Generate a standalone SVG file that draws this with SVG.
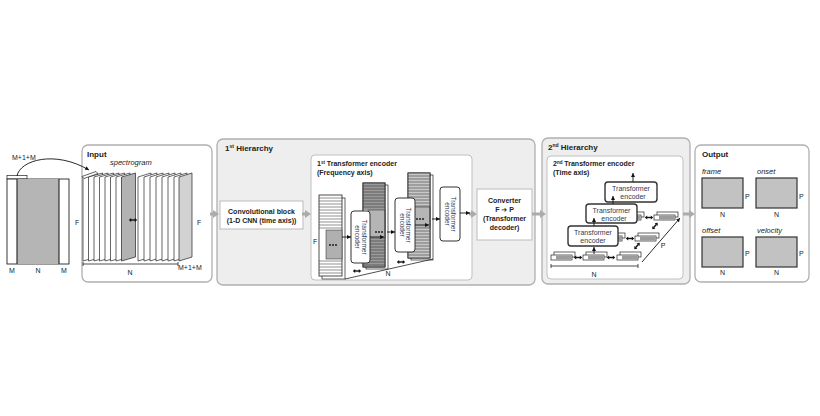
<svg xmlns="http://www.w3.org/2000/svg" width="820" height="416" viewBox="0 0 820 416">
<style>
text{font-family:"Liberation Sans",Arial,sans-serif;fill:#222}
.t{font-size:8px;font-weight:bold}
.s{font-size:7px;font-weight:bold}
.l{font-size:7px}
.i{font-size:7.5px;font-style:italic}
.gpanel{fill:#eeeeee;stroke:#b0b0b0;stroke-width:1.3}
.panel{fill:#ffffff;stroke:#b0b0b0;stroke-width:1.3}
.inner{fill:#ffffff;stroke:#c0c0c0;stroke-width:1}
.ln{stroke:#222;stroke-width:0.8;fill:none}
.ga{stroke:#ababab;stroke-width:3;fill:none;marker-end:url(#gh)}
.ba{stroke:#111;stroke-width:0.9;fill:none;marker-end:url(#bh)}
.enc{font-size:6.5px;fill:#2f3b55}
.enc2{font-size:7px;fill:#2f3b55}
.ob{fill:#c2c2c2;stroke:#333;stroke-width:1.2}
.sl{fill:#fff;stroke:#222;stroke-width:0.7}
.slg{fill:#b2b2b2;stroke:#222;stroke-width:0.7}
.slg2{fill:#d2d2d2;stroke:#222;stroke-width:0.7}
.st{stroke:#222;stroke-width:0.5}
.tb{fill:#fff;stroke:#333;stroke-width:1}
.tb2{fill:#fff;stroke:#333;stroke-width:1.4}
.bar{fill:#fff;stroke:#222;stroke-width:0.7}
.barg{fill:#9c9c9c}
</style>
<defs>
<marker id="gh" markerUnits="userSpaceOnUse" markerWidth="6" markerHeight="8" refX="1" refY="4" orient="auto"><path d="M0,0 L6,4 L0,8 z" fill="#ababab"/></marker>
<marker id="bh" markerUnits="userSpaceOnUse" markerWidth="4" markerHeight="4" refX="4" refY="2" orient="auto"><path d="M0,0 L4,2 L0,4 z" fill="#111"/></marker>
<g id="dbl"><path d="M-4.2,0 L-1.8,-2 L-1.8,2 z M4.2,0 L1.8,-2 L1.8,2 z" fill="#111"/><path d="M-2,0 H2" stroke="#111" stroke-width="1.4"/></g>
<g id="bar"><rect x="3" y="-3" width="21" height="5" class="bar"/><rect x="0" y="0" width="21" height="5" class="bar"/><rect x="5" y="0.4" width="15.6" height="4.2" class="barg"/></g>
</defs>

<!-- source spectrogram -->
<g id="source">
<rect x="7" y="175.5" width="20" height="3.5" class="sl"/>
<rect x="7" y="179" width="62" height="85" fill="#fff" stroke="#222" stroke-width="0.9"/>
<rect x="17" y="179" width="42" height="85" fill="#b5b5b5"/>
<path d="M17,179 V264 M59,179 V264" stroke="#222" stroke-width="1.1"/>
<text x="12" y="160" class="l">M+1+M</text>
<text x="75" y="225" class="l">F</text>
<text x="12" y="273" class="l" text-anchor="middle">M</text>
<text x="38" y="273" class="l" text-anchor="middle">N</text>
<text x="64" y="273" class="l" text-anchor="middle">M</text>
</g>

<!-- Input panel -->
<g id="input">
<rect x="82" y="145" width="130" height="137" rx="6" class="panel"/>
<text x="87" y="157" class="t">Input</text>
<text x="110" y="165" class="i">spectrogram</text>
<polygon points="83,177 97,173 97,257 83,261" class="sl"/>
<polygon points="88.5,177 102.5,173 102.5,257 88.5,261" class="sl"/>
<polygon points="94,177 108,173 108,257 94,261" class="sl"/>
<polygon points="99.5,177 113.5,173 113.5,257 99.5,261" class="sl"/>
<polygon points="105,177 119,173 119,257 105,261" class="sl"/>
<polygon points="110.5,177 124.5,173 124.5,257 110.5,261" class="sl"/>
<polygon points="116,177 130,173 130,257 116,261" class="sl"/>
<polygon points="121.5,177 135.5,173 135.5,257 121.5,261" class="slg"/>
<polygon points="82,176.5 96,171.5 98,173.5 84,178.5" class="sl"/>
<polygon points="138,177 151,173 151,257 138,261" class="sl"/>
<polygon points="144,177 157,173 157,257 144,261" class="sl"/>
<polygon points="150,177 163,173 163,257 150,261" class="sl"/>
<polygon points="156,177 169,173 169,257 156,261" class="sl"/>
<polygon points="162,177 175,173 175,257 162,261" class="sl"/>
<polygon points="168,177 181,173 181,257 168,261" class="sl"/>
<polygon points="174,177 187,173 187,257 174,261" class="sl"/>
<polygon points="179,177 192,173 192,257 179,261" class="slg2"/>
<use href="#dbl" x="133" y="220"/>
<path d="M83,264 H178 M83,262 V266 M178,262 V266" class="ln"/>
<text x="130" y="275" class="l" text-anchor="middle">N</text>
<text x="178" y="270" class="l">M+1+M</text>
<text x="197" y="225" class="l">F</text>
</g>

<!-- 1st Hierarchy -->
<g id="hier1">
<rect x="217" y="139" width="318" height="146" rx="6" class="gpanel"/>
<text x="225" y="151" class="t">1<tspan font-size="5" dy="-3">st</tspan><tspan dy="3"> Hierarchy</tspan></text>
</g>
<g id="conv">
<rect x="220" y="201" width="83" height="28" fill="#fff" stroke="#bbb" stroke-width="1"/>
<text x="261.5" y="214" class="s" text-anchor="middle">Convolutional block</text>
<text x="261.5" y="223" class="s" text-anchor="middle" font-size="6.6">(1-D CNN (time axis))</text>
</g>
<g id="enc1">
<rect x="311" y="155" width="161" height="125" rx="4" class="inner"/>
<text x="317" y="166" class="s">1<tspan font-size="4.5" dy="-2.5">st</tspan><tspan dy="2.5"> Transformer encoder</tspan></text>
<text x="317" y="175" class="s">(Frequency axis)</text>
<!-- column 1 -->
<rect x="322" y="198" width="23" height="81" class="sl"/>
<rect x="319" y="195" width="23" height="81" fill="#fff" stroke="#222" stroke-width="0.8"/>
<path d="M319,198H342M319,201H342M319,204H342M319,207H342M319,210H342M319,213H342M319,216H342M319,219H342M319,222H342M319,225H342M319,228H342M319,261H342M319,264H342M319,267H342M319,270H342M319,273H342" class="st"/>
<rect x="326" y="230" width="16" height="29" fill="#b0b0b0" stroke="#222" stroke-width="0.5"/>
<circle cx="330" cy="245" r="0.9" fill="#111"/><circle cx="333" cy="245" r="0.9" fill="#111"/><circle cx="336" cy="245" r="0.9" fill="#111"/>
<!-- column 2 -->
<rect x="366" y="185" width="22" height="84" class="sl"/>
<rect x="363" y="183" width="22" height="84" fill="#fff" stroke="#222" stroke-width="0.8"/>
<rect x="363" y="183" width="22" height="27" fill="#9a9a9a"/>
<rect x="363" y="238" width="22" height="29" fill="#9a9a9a"/>
<path d="M363,186H385M363,189H385M363,192H385M363,195H385M363,198H385M363,201H385M363,204H385M363,207H385M363,241H385M363,244H385M363,247H385M363,250H385M363,253H385M363,256H385M363,259H385M363,262H385M363,265H385" class="st"/>
<rect x="368" y="210" width="17" height="28" fill="#b5b5b5" stroke="#222" stroke-width="0.5"/>
<rect x="363" y="183" width="22" height="84" fill="none" stroke="#222" stroke-width="0.8"/>
<circle cx="376" cy="232" r="0.9" fill="#111"/><circle cx="379" cy="232" r="0.9" fill="#111"/><circle cx="382" cy="232" r="0.9" fill="#111"/>
<!-- column 3 -->
<rect x="411" y="175" width="22" height="85" class="sl"/>
<rect x="408" y="173" width="22" height="85" fill="#fff" stroke="#222" stroke-width="0.8"/>
<rect x="408" y="173" width="22" height="34" fill="#c8c8c8"/>
<rect x="408" y="228" width="22" height="30" fill="#c8c8c8"/>
<path d="M408,176H430M408,179H430M408,182H430M408,185H430M408,188H430M408,191H430M408,194H430M408,197H430M408,200H430M408,203H430M408,206H430M408,231H430M408,234H430M408,237H430M408,240H430M408,243H430M408,246H430M408,249H430M408,252H430M408,255H430" class="st"/>
<rect x="413" y="207" width="17" height="21" fill="#b5b5b5" stroke="#222" stroke-width="0.5"/>
<rect x="408" y="173" width="22" height="85" fill="none" stroke="#222" stroke-width="0.8"/>
<circle cx="417" cy="219" r="0.9" fill="#111"/><circle cx="420" cy="219" r="0.9" fill="#111"/><circle cx="423" cy="219" r="0.9" fill="#111"/>
<!-- encoder boxes -->
<rect x="351" y="211" width="19" height="52" rx="3" class="tb"/>
<text transform="translate(360.5,237) rotate(90)" class="enc" text-anchor="middle"><tspan x="0" y="-1">Transformer</tspan><tspan x="0" y="5.5">encoder</tspan></text>
<rect x="395" y="198" width="20" height="54" rx="3" class="tb"/>
<text transform="translate(405,225) rotate(90)" class="enc" text-anchor="middle"><tspan x="0" y="-1">Transformer</tspan><tspan x="0" y="5.5">encoder</tspan></text>
<rect x="440" y="187" width="20" height="54" rx="3" class="tb"/>
<text transform="translate(450,214) rotate(90)" class="enc" text-anchor="middle"><tspan x="0" y="-1">Transformer</tspan><tspan x="0" y="5.5">encoder</tspan></text>
<path d="M345,279 L433,259" class="ln"/>
<use href="#dbl" x="357" y="271"/>
<use href="#dbl" x="401" y="262"/>
<text x="388" y="276" class="l" text-anchor="middle">N</text>
<text x="313" y="244" class="l">F</text>
</g>

<g id="converter">
<rect x="477" y="189" width="55" height="51" fill="#fff" stroke="#bbb" stroke-width="1"/>
<text x="504.5" y="203" class="s" text-anchor="middle">Converter</text>
<text x="504.5" y="212" class="s" text-anchor="middle">F <tspan font-family="DejaVu Sans,sans-serif">➔</tspan> P</text>
<text x="504.5" y="221" class="s" text-anchor="middle">(Transformer</text>
<text x="504.5" y="230" class="s" text-anchor="middle">decoder)</text>
</g>

<!-- 2nd Hierarchy -->
<g id="hier2">
<rect x="542" y="138" width="148" height="146" rx="6" class="gpanel"/>
<text x="548" y="150" class="t">2<tspan font-size="5" dy="-3">nd</tspan><tspan dy="3"> Hierarchy</tspan></text>
</g>
<g id="enc2">
<rect x="547" y="156" width="136" height="123" rx="4" class="inner"/>
<text x="553" y="166" class="s">2<tspan font-size="4.5" dy="-2.5">nd</tspan><tspan dy="2.5"> Transformer encoder</tspan></text>
<text x="553" y="175" class="s">(Time axis)</text>
<rect x="605" y="182" width="52" height="20" rx="3" class="tb2"/>
<text x="631" y="191" class="enc2" text-anchor="middle">Transformer</text>
<text x="633" y="199" class="enc2" text-anchor="middle">encoder</text>
<use href="#bar" x="588" y="215"/>
<use href="#bar" x="620" y="215"/>
<use href="#bar" x="654" y="215"/>
<use href="#dbl" x="649" y="217.5"/>
<rect x="586" y="204" width="51" height="19" rx="3" class="tb2"/>
<text x="611.5" y="213" class="enc2" text-anchor="middle">Transformer</text>
<text x="614" y="221" class="enc2" text-anchor="middle">encoder</text>
<use href="#bar" x="569" y="236"/>
<use href="#bar" x="601" y="236"/>
<use href="#bar" x="635" y="236"/>
<use href="#dbl" x="630" y="238.5"/>
<rect x="568" y="226" width="50" height="20" rx="3" class="tb2"/>
<text x="593" y="235" class="enc2" text-anchor="middle">Transformer</text>
<text x="593" y="243" class="enc2" text-anchor="middle">encoder</text>
<use href="#bar" x="551" y="255"/>
<use href="#bar" x="583" y="255"/>
<use href="#bar" x="617" y="255"/>
<use href="#dbl" x="578" y="257.5"/>
<use href="#dbl" x="611" y="257.5"/>
<use href="#dbl" transform="translate(637,246) rotate(-50)"/>
<use href="#dbl" transform="translate(655,226) rotate(-50)"/>
<path d="M642,262 L680,218" class="ba"/>
<text x="663" y="248" class="l" text-anchor="middle">P</text>
<path d="M551,266 H638 M551,264 V268 M638,264 V268" class="ln"/>
<text x="594" y="277" class="l" text-anchor="middle">N</text>
<path d="M594,254 V247" class="ba"/>
<path d="M594,226 V218" class="ba"/>
<path d="M613,204 V196" class="ba"/>
<path d="M633,182 V173" class="ba"/>
</g>

<!-- Output -->
<g id="output">
<rect x="695" y="145" width="114" height="137" rx="6" class="panel"/>
<text x="702" y="157" class="t">Output</text>
<text x="702" y="174" class="i">frame</text>
<rect x="702" y="178" width="41" height="30" class="ob"/>
<text x="745" y="199" class="l">P</text>
<text x="722.5" y="217" class="l" text-anchor="middle">N</text>
<text x="757" y="174" class="i">onset</text>
<rect x="756" y="178" width="41" height="30" class="ob"/>
<text x="799" y="199" class="l">P</text>
<text x="776.5" y="217" class="l" text-anchor="middle">N</text>
<text x="702" y="233" class="i">offset</text>
<rect x="702" y="237" width="41" height="30" class="ob"/>
<text x="745" y="256" class="l">P</text>
<text x="722.5" y="275" class="l" text-anchor="middle">N</text>
<text x="757" y="233" class="i">velocity</text>
<rect x="756" y="237" width="41" height="30" class="ob"/>
<text x="799" y="256" class="l">P</text>
<text x="776.5" y="275" class="l" text-anchor="middle">N</text>
</g>

<!-- connectors -->
<g id="connectors">
<path d="M17,176 C20,160 55,150 89,170" class="ba"/>
<path d="M210,214 H214" class="ga"/>
<path d="M302,214 H306" class="ga"/>
<path d="M469,214 H472" class="ga"/>
<path d="M532,214 H541" class="ga"/>
<path d="M683,214 H690" class="ga"/>
<path d="M342,237 H351" class="ba"/>
<path d="M370,237 H384" class="ba"/>
<path d="M387,232 H395" class="ba"/>
<path d="M415,225 H429" class="ba"/>
<path d="M432,219 H440" class="ba"/>
<path d="M460,213 H470" class="ba"/>
</g>
</svg>
